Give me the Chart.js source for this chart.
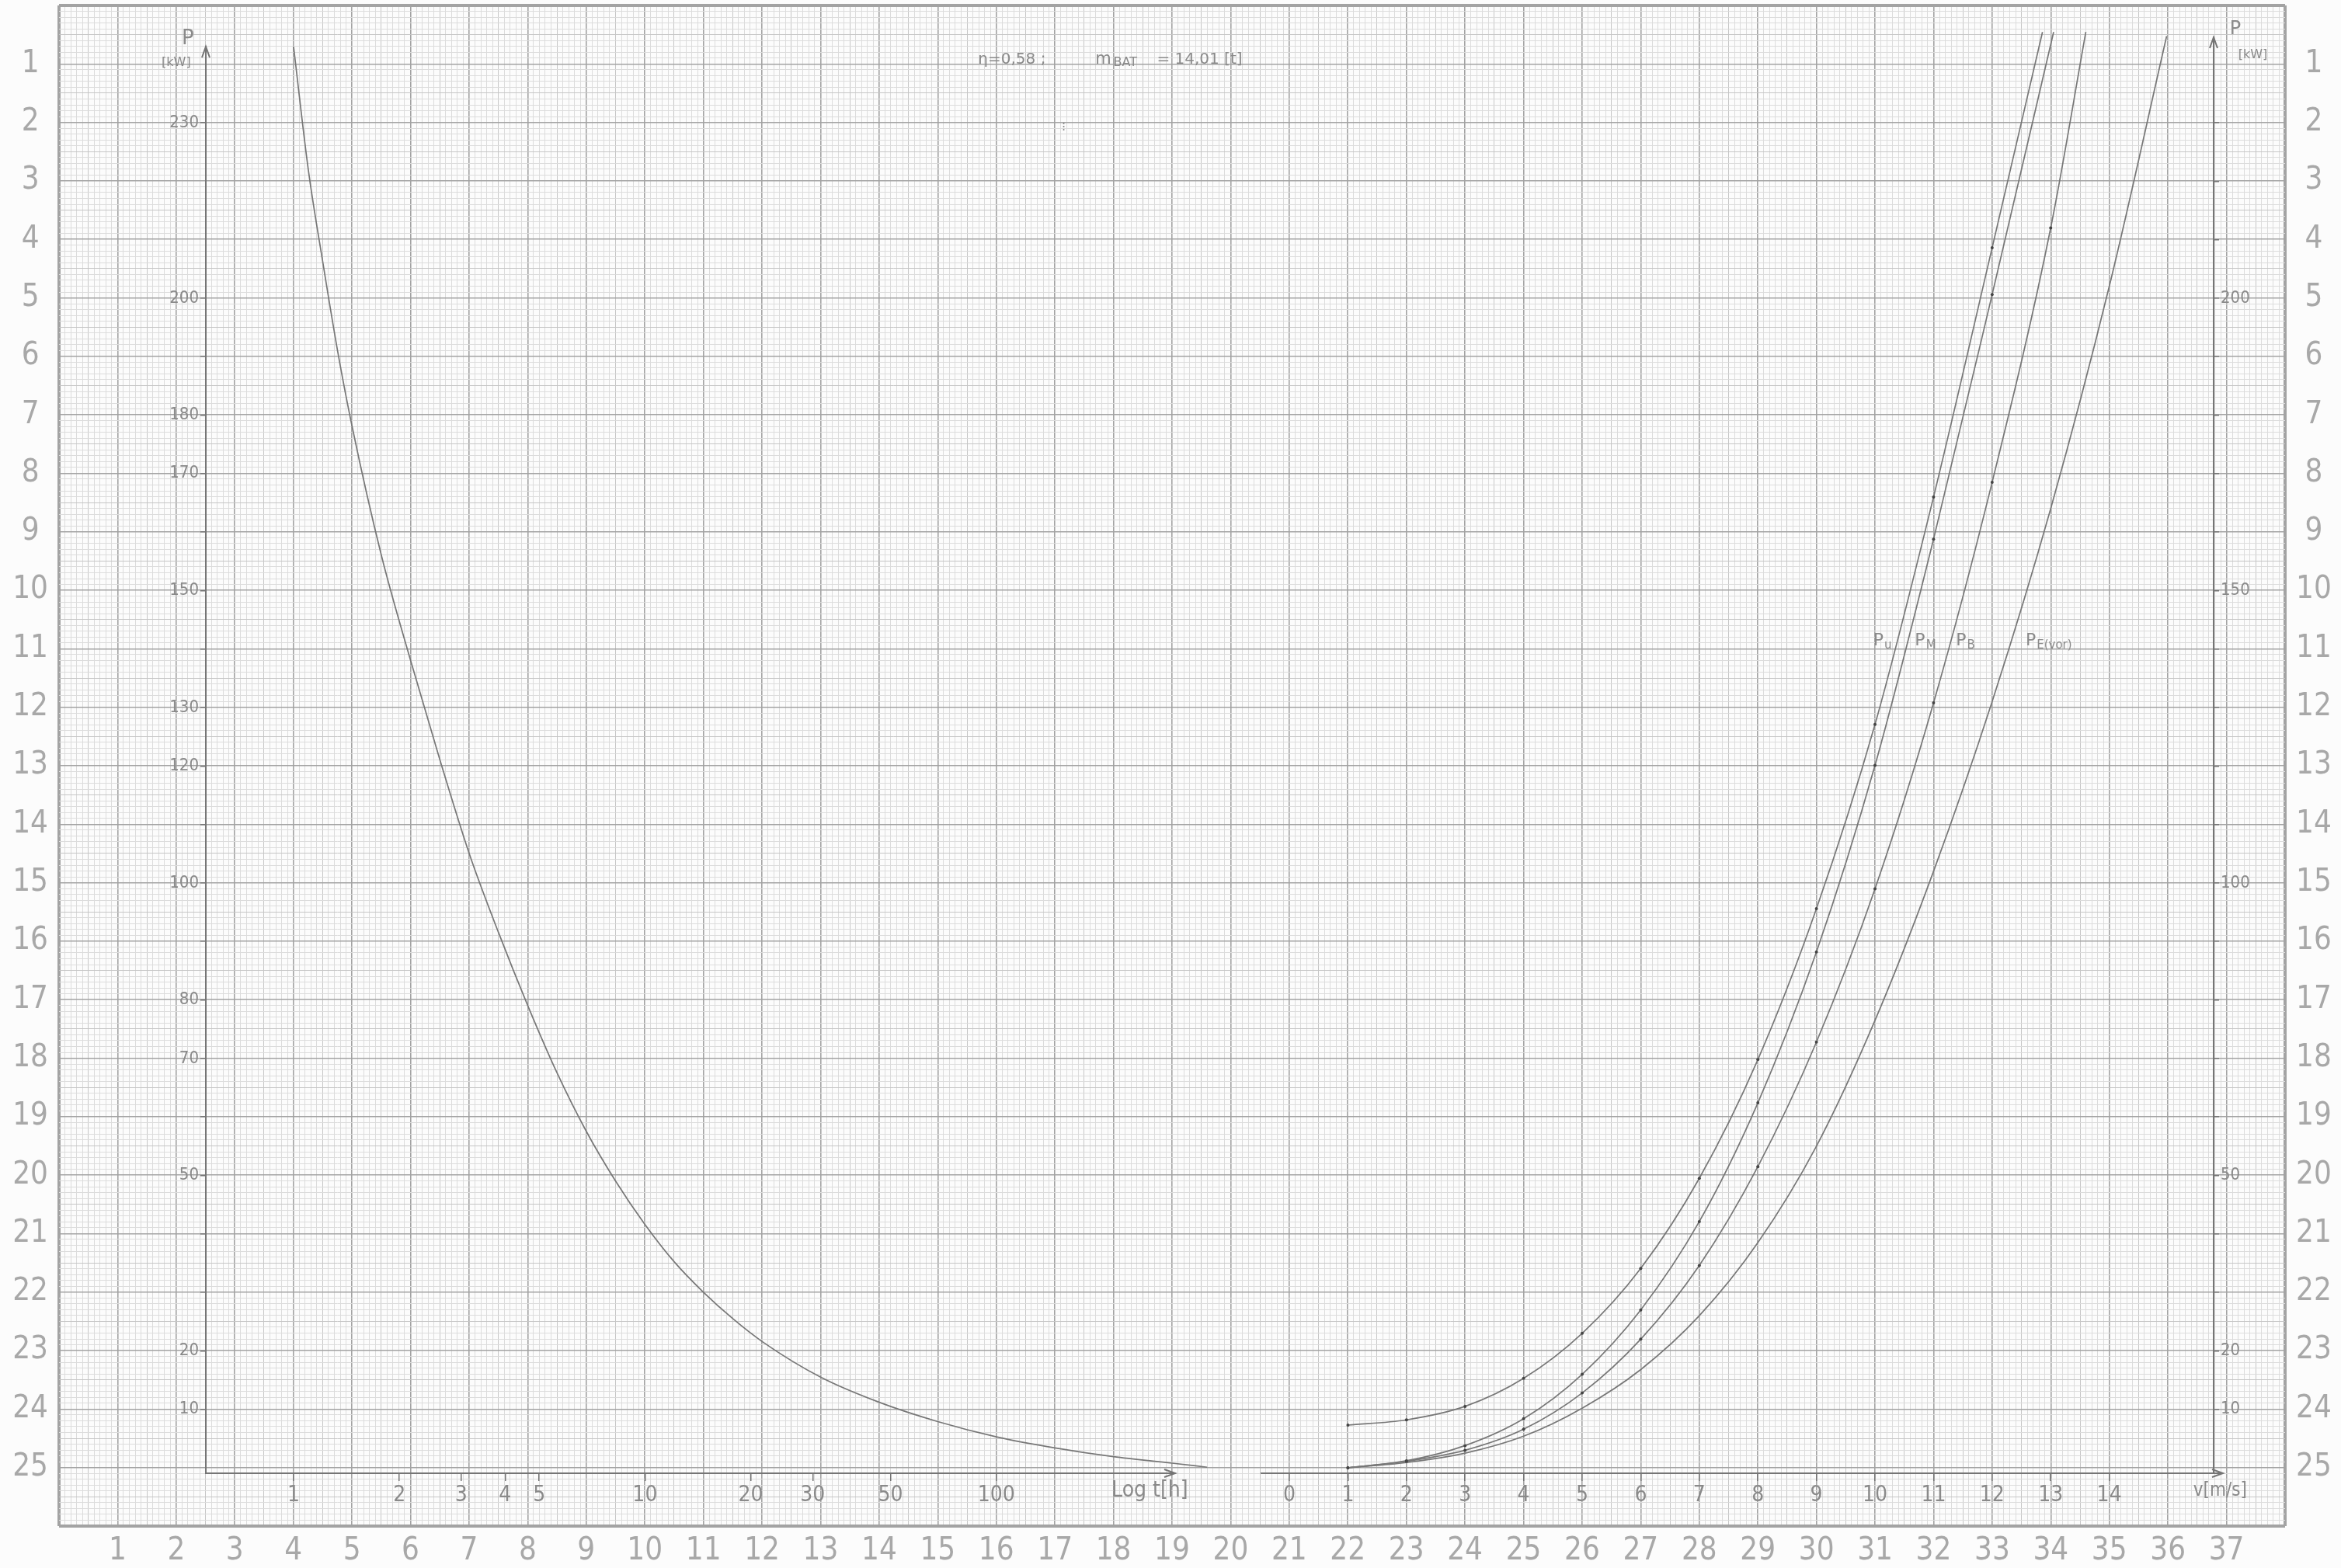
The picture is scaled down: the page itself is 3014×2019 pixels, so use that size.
<!DOCTYPE html>
<html>
<head>
<meta charset="utf-8">
<title>P(t) / P(v)</title>
<script src="https://cdn.jsdelivr.net/npm/chart.js@4.4.1/dist/chart.umd.min.js"></script>
<style>
  html, body { margin: 0; padding: 0; background: #fcfcfc; }
  #wrap { position: relative; width: 3014px; height: 2019px; }
  #wrap canvas { position: absolute; left: 0; top: 0; }
</style>
</head>
<body>
<div id="wrap">
  <canvas id="paper" width="3014" height="2019"></canvas>
  <canvas id="timeChart" width="3014" height="2019"></canvas>
  <canvas id="speedChart" width="3014" height="2019"></canvas>
</div>
<script>
// --- Data: left plot, power vs. duration (log t) ---
const durationTicks = [1, 2, 3, 4, 5, 10, 20, 30, 50, 100];
const durationHours = [1, 1.101, 1.212, 1.334, 1.468, 1.778, 2.154, 2.61, 3.162, 3.831, 4.642, 5.623, 6.813,
  8.254, 10, 12.12, 14.68, 17.78, 21.54, 31.62, 46.42, 68.13, 100, 146.8, 215.4, 316.2, 398];
const durationPower = [243, 222, 206, 191, 178, 156, 138, 121, 105, 91.5, 79, 67.5, 57.5,
  49, 41.6, 35.2, 30, 25.5, 21.6, 15.5, 11.2, 7.9, 5.3, 3.4, 1.9, 0.8, 0.1];
const leftPowerTicks = [10, 20, 30, 40, 50, 60, 70, 80, 90, 100, 110, 120, 130, 140, 150, 160, 170, 180, 190, 200, 230];
const leftPowerLabels = [10, 20, 50, 70, 80, 100, 120, 130, 150, 170, 180, 200, 230];

// --- Data: right plot, power vs. speed ---
const speedTicks = [0, 1, 2, 3, 4, 5, 6, 7, 8, 9, 10, 11, 12, 13, 14];
const speedU = [1, 2, 3, 4, 5, 6, 7, 8, 9, 10, 11, 12, 12.86];
const powerU = [7.3, 8.2, 10.5, 15.3, 23, 34.1, 49.5, 69.8, 95.6, 127.1, 166, 208.6, 245.5];
const speedM = [1, 2, 3, 4, 5, 6, 7, 8, 9, 10, 11, 12, 13.05];
const powerM = [0, 1.2, 3.8, 8.4, 16, 27, 42.1, 62.4, 88.2, 120.1, 158.8, 200.6, 245.5];
const speedB = [1, 2, 3, 4, 5, 6, 7, 8, 9, 10, 11, 12, 13, 13.6];
const powerB = [0, 1.1, 3.0, 6.6, 12.8, 22, 34.6, 51.5, 72.8, 99, 130.8, 168.5, 212, 245.5];
const speedE = [1, 2, 3, 4, 5, 6, 7, 8, 9, 10, 11, 12, 13, 14, 14.98];
const powerE = [0, 0.9, 2.5, 5.4, 10.2, 16.8, 26, 38.5, 55, 76.5, 102, 131, 164, 202, 244.8];
const rightPowerTicks = [10, 20, 30, 40, 50, 60, 70, 80, 90, 100, 110, 120, 130, 140, 150, 160, 170, 180, 190, 200, 210, 220, 230];
const rightPowerLabels = [10, 20, 50, 100, 150, 200];

// --- Styles ---
const PENCIL = '#777777';
const AXIS = '#757575';
const HAND = '#8a8a8a';
const NARROW = '"Liberation Sans Narrow", "DejaVu Sans Condensed", "Liberation Sans", sans-serif';
const WIDE = '"DejaVu Sans", sans-serif';
const SHEET_FONT = { family: NARROW, size: 40 };

// text written on the sheet, placed in millimetres of the paper grid
const sheetNotes = [
  { text: 'η=0,58 ;', x: 156.9, y: 9.3, size: 20, align: 'left' },
  { text: 'm', x: 176.9, y: 9.3, size: 21, align: 'left' },
  { text: 'BAT', x: 180.0, y: 9.8, size: 16, align: 'left' },
  { text: '= 14,01 [t]', x: 187.4, y: 9.3, size: 20, align: 'left' },
  { text: '⁝', x: 171.5, y: 21, size: 16, align: 'center' },
  { text: 'P', x: 22.0, y: 5.7, size: 26, align: 'center' },
  { text: '[kW]', x: 20.0, y: 9.8, size: 16, align: 'center' },
  { text: 'P', x: 371.5, y: 4.1, size: 24, align: 'center' },
  { text: '[kW]', x: 374.5, y: 8.5, size: 16, align: 'center' },
  { text: 'P', x: 309.7, y: 108.6, size: 22, align: 'left' },
  { text: 'u', x: 311.6, y: 109.4, size: 15, align: 'left' },
  { text: 'P', x: 316.8, y: 108.6, size: 22, align: 'left' },
  { text: 'M', x: 318.7, y: 109.4, size: 15, align: 'left' },
  { text: 'P', x: 323.8, y: 108.6, size: 22, align: 'left' },
  { text: 'B', x: 325.7, y: 109.4, size: 15, align: 'left' },
  { text: 'P', x: 335.7, y: 108.6, size: 22, align: 'left' },
  { text: 'E(vor)', x: 337.6, y: 109.4, size: 15, align: 'left' },
  { text: 'Log t[h]', x: 186.2, y: 254.0, size: 28, align: 'center', family: NARROW },
  { text: 'v[m/s]', x: 368.9, y: 254.0, size: 24, align: 'center', family: NARROW },
];

// --- Plugins ---
const sheetText = {
  id: 'sheetText',
  afterDraw(chart) {
    const { ctx, scales } = chart;
    ctx.save();
    ctx.fillStyle = HAND;
    ctx.textBaseline = 'middle';
    sheetNotes.forEach((n) => {
      ctx.font = `${n.size}px ${n.family || WIDE}`;
      ctx.textAlign = n.align;
      ctx.fillText(n.text, scales.x.getPixelForValue(n.x), scales.y.getPixelForValue(n.y));
    });
    ctx.restore();
  },
};

const axisArrows = {
  id: 'axisArrows',
  afterDraw(chart, args, opts) {
    const { ctx, chartArea: a } = chart;
    const xv = opts.side === 'right' ? a.right : a.left;
    const xEnd = a.right + (opts.overshoot || 0);
    ctx.save();
    ctx.strokeStyle = AXIS;
    ctx.lineWidth = 2;
    ctx.beginPath();
    ctx.moveTo(xv - 5, a.top + 14);
    ctx.lineTo(xv, a.top);
    ctx.lineTo(xv + 5, a.top + 14);
    ctx.moveTo(a.right, a.bottom);
    ctx.lineTo(xEnd, a.bottom);
    ctx.moveTo(xEnd - 14, a.bottom - 5);
    ctx.lineTo(xEnd, a.bottom);
    ctx.lineTo(xEnd - 14, a.bottom + 5);
    ctx.stroke();
    ctx.restore();
  },
};

// --- Helpers ---
function paperColor(ctx) {
  const v = ctx.tick.value;
  if (v % 10 === 0) return '#a3a3a3';
  if (v % 5 === 0) return '#c6c6c6';
  return '#dcdcdc';
}

function paperWidth(ctx, max) {
  const v = ctx.tick.value;
  if (v === 0 || v === max) return 4;
  if (v % 10 === 0) return 1.6;
  return 1;
}

function sheetNumber(max) {
  return (v) => (v % 10 === 0 && v > 0 && v < max ? String(v / 10) : '');
}

// fixed box sizes, no extra room for overhanging labels
function fixBox(size) {
  return (s) => {
    if (s.isHorizontal()) s.height = size; else s.width = size;
    s.paddingTop = 0; s.paddingBottom = 0; s.paddingLeft = 0; s.paddingRight = 0;
  };
}

function toPoints(xs, ys) {
  return xs.map((x, i) => ({ x, y: ys[i] }));
}

function curve(xs, ys, dots) {
  return {
    data: toPoints(xs, ys),
    borderColor: PENCIL,
    borderWidth: 1.7,
    pointRadius: dots ? 2 : 0,
    pointBackgroundColor: '#444444',
    pointBorderWidth: 0,
    cubicInterpolationMode: 'monotone',
    clip: false,
  };
}

const baseOptions = {
  responsive: false,
  animation: false,
  devicePixelRatio: 1,
  events: [],
};

const handTicks = (size) => ({ color: HAND, font: { family: NARROW, size } });

// --- Graph paper ---
new Chart(document.getElementById('paper'), {
  type: 'scatter',
  data: { datasets: [] },
  plugins: [sheetText],
  options: {
    ...baseOptions,
    layout: { padding: { left: 0, right: 0, top: 7, bottom: 0 } },
    plugins: { legend: { display: false }, tooltip: { enabled: false } },
    scales: {
      x: {
        type: 'linear', position: 'bottom', min: 0, max: 380,
        afterFit: fixBox(54),
        ticks: { stepSize: 1, autoSkip: false, maxRotation: 0, minRotation: 0, padding: 9,
          color: '#a8a8a8', font: SHEET_FONT, callback: sheetNumber(380) },
        grid: { color: paperColor, lineWidth: (c) => paperWidth(c, 380), drawTicks: false },
        border: { display: false },
      },
      y: {
        type: 'linear', position: 'left', reverse: true, min: 0, max: 260,
        afterFit: fixBox(76),
        ticks: { stepSize: 1, autoSkip: false, crossAlign: 'center', padding: 14,
          color: '#a8a8a8', font: SHEET_FONT, callback: sheetNumber(260) },
        grid: { color: paperColor, lineWidth: (c) => paperWidth(c, 260), drawTicks: false },
        border: { display: false },
      },
      y2: {
        type: 'linear', position: 'right', reverse: true, min: 0, max: 260,
        afterFit: fixBox(72),
        ticks: { stepSize: 1, autoSkip: false, crossAlign: 'center', padding: 14,
          color: '#a8a8a8', font: SHEET_FONT, callback: sheetNumber(260) },
        grid: { display: false, drawTicks: false },
        border: { display: false },
      },
    },
  },
});

// --- Left plot: P over log t ---
new Chart(document.getElementById('timeChart'), {
  type: 'line',
  data: { datasets: [curve(durationHours, durationPower, false)] },
  plugins: [axisArrows],
  options: {
    ...baseOptions,
    layout: { padding: { left: 205, right: 1501, top: 60, bottom: 67 } },
    plugins: { legend: { display: false }, tooltip: { enabled: false }, axisArrows: { side: 'left', overshoot: 0 } },
    scales: {
      x: {
        type: 'logarithmic', position: 'bottom', min: 0.5627, max: 322.7,
        afterBuildTicks: (s) => { s.ticks = durationTicks.map((v) => ({ value: v })); },
        afterFit: fixBox(55),
        ticks: { ...handTicks(28), autoSkip: false, maxRotation: 0, padding: 2, callback: (v) => String(v) },
        grid: { drawOnChartArea: false, tickLength: 10, color: AXIS, lineWidth: 1.5 },
        border: { color: AXIS, width: 2 },
      },
      y: {
        type: 'linear', position: 'left', min: -0.93, max: 243,
        afterBuildTicks: (s) => { s.ticks = leftPowerTicks.map((v) => ({ value: v })); },
        afterFit: fixBox(60),
        ticks: { ...handTicks(22), autoSkip: false, padding: 2,
          callback: (v) => (leftPowerLabels.includes(v) ? String(v) : '') },
        grid: { drawOnChartArea: false, tickLength: 7, color: AXIS, lineWidth: 1.5 },
        border: { color: AXIS, width: 2 },
      },
    },
  },
});

// --- Right plot: P over v ---
new Chart(document.getElementById('speedChart'), {
  type: 'line',
  data: {
    datasets: [
      curve(speedU, powerU, true),
      curve(speedM, powerM, true),
      curve(speedB, powerB, true),
      curve(speedE, powerE, false),
    ],
  },
  plugins: [axisArrows],
  options: {
    ...baseOptions,
    layout: { padding: { left: 1624, right: 104, top: 48, bottom: 67 } },
    plugins: { legend: { display: false }, tooltip: { enabled: false }, axisArrows: { side: 'right', overshoot: 12 } },
    scales: {
      x: {
        type: 'linear', position: 'bottom', min: -0.4775, max: 15.782,
        afterBuildTicks: (s) => { s.ticks = speedTicks.map((v) => ({ value: v })); },
        afterFit: fixBox(55),
        ticks: { ...handTicks(28), autoSkip: false, maxRotation: 0, padding: 2, callback: (v) => String(v) },
        grid: { drawOnChartArea: false, tickLength: 10, color: AXIS, lineWidth: 1.5 },
        border: { color: AXIS, width: 2 },
      },
      y: {
        type: 'linear', position: 'right', min: -0.93, max: 244.6,
        afterBuildTicks: (s) => { s.ticks = rightPowerTicks.map((v) => ({ value: v })); },
        afterFit: fixBox(60),
        ticks: { ...handTicks(22), autoSkip: false, padding: 2,
          callback: (v) => (rightPowerLabels.includes(v) ? String(v) : '') },
        grid: { drawOnChartArea: false, tickLength: 7, color: AXIS, lineWidth: 1.5 },
        border: { color: AXIS, width: 2 },
      },
    },
  },
});
</script>
</body>
</html>
